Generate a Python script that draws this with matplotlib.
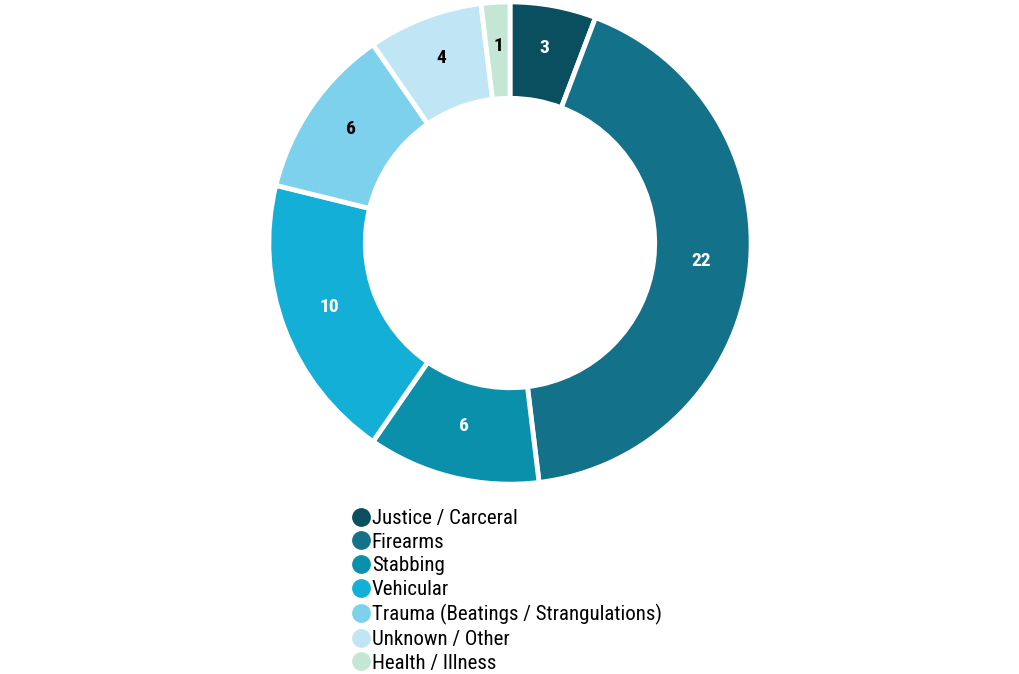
import matplotlib.pyplot as plt
from matplotlib import font_manager
from matplotlib.lines import Line2D

categories = ['Justice / Carceral', 'Firearms', 'Stabbing', 'Vehicular',
              'Trauma (Beatings / Strangulations)', 'Unknown / Other',
              'Health / Illness']
counts = [3, 22, 6, 10, 6, 4, 1]
colors = ['#0a4f5f', '#137189', '#0b90ac', '#13afd6', '#7dd1ed', '#c0e6f5', '#c4e6d4']
label_colors = ['white', 'white', 'white', 'white', 'black', 'black', 'black']

names = {f.name for f in font_manager.fontManager.ttflist}
family = ['Roboto Condensed', 'Roboto', 'DejaVu Sans'] if 'Roboto Condensed' in names else ['Roboto', 'DejaVu Sans']
plt.rcParams['font.family'] = family

fig = plt.figure(figsize=(10.2, 6.74), dpi=100)
ax = fig.add_axes([0.2647, 0.2834, 0.4706, 0.712])

wedges, texts = ax.pie(counts, colors=colors, startangle=90, counterclock=False,
                       radius=1, labels=[str(c) for c in counts], labeldistance=0.8,
                       wedgeprops=dict(width=0.4, edgecolor='white', linewidth=3.5,
                                       joinstyle='round'))
for t, c in zip(texts, label_colors):
    x, y = t.get_position()
    t.set_position((x, y + 0.02))  # nudge up, digits have no descender
    t.set_color(c)
    t.set_fontsize(14)
    t.set_fontweight('bold')
    t.set_ha('center')
    t.set_va('center')
ax.set_xlim(-0.995, 0.995)
ax.set_ylim(-0.995, 0.995)
ax.set_aspect('equal')

handles = [Line2D([], [], marker='o', linestyle='none', markersize=12.5,
                  markerfacecolor=c, markeredgecolor=c) for c in colors]
fig.legend(handles, categories, loc='upper left', bbox_to_anchor=(0.343, 0.245),
           frameon=False, fontsize=15, handletextpad=0.0, labelspacing=0.23,
           handlelength=1.05, borderaxespad=0, borderpad=0)

fig.savefig('out.png', dpi=100)
